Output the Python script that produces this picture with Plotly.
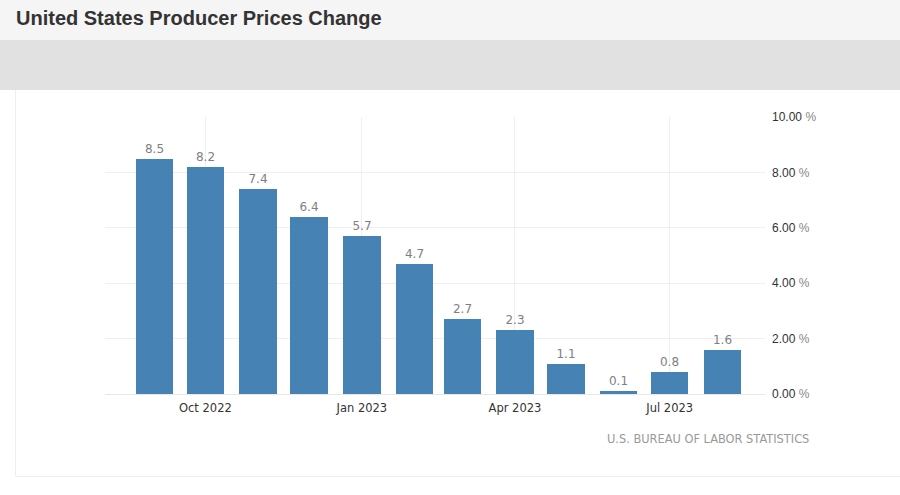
import plotly.graph_objects as go

# Data
months = ["2022-09-01", "2022-10-01", "2022-11-01", "2022-12-01", "2023-01-01", "2023-02-01",
          "2023-03-01", "2023-04-01", "2023-05-01", "2023-06-01", "2023-07-01", "2023-08-01"]
values = [8.5, 8.2, 7.4, 6.4, 5.7, 4.7, 2.7, 2.3, 1.1, 0.1, 0.8, 1.6]
x_tick_vals = ["2022-10-01", "2023-01-01", "2023-04-01", "2023-07-01"]
x_tick_text = ["Oct 2022", "Jan 2023", "Apr 2023", "Jul 2023"]
y_tick_vals = [0, 2, 4, 6, 8, 10]
y_tick_text = ["0.00", "2.00", "4.00", "6.00", "8.00", "10.00"]

W, H = 900, 495
L, R, T, B = 105, 135, 117, 101
PW, PH = W - L - R, H - T - B


def px2x(px):
    return (px - L) / PW


def px2y(py):
    return (H - B - py) / PH


fig = go.Figure()
fig.add_trace(go.Bar(
    x=months, y=values,
    width=22 * 24 * 3600 * 1000,
    marker=dict(color="#4682b4", line=dict(width=0)),
    text=[f"{v:.1f}" for v in values],
    textposition="outside",
    textfont=dict(family="DejaVu Sans", size=12, color="#808080"),
    cliponaxis=False,
    hoverinfo="x+y",
))

shapes = [
    dict(type="rect", xref="paper", yref="paper", x0=px2x(0), x1=px2x(900), y0=px2y(0), y1=px2y(40),
         fillcolor="#f5f5f5", line=dict(width=0), layer="below"),
    dict(type="rect", xref="paper", yref="paper", x0=px2x(0), x1=px2x(900), y0=px2y(40), y1=px2y(90),
         fillcolor="#e1e1e1", line=dict(width=0), layer="below"),
    dict(type="line", xref="paper", yref="paper", x0=px2x(15.5), x1=px2x(15.5), y0=px2y(90), y1=px2y(476),
         line=dict(color="#eeeeee", width=1), layer="below"),
    dict(type="line", xref="paper", yref="paper", x0=px2x(15.5), x1=px2x(900), y0=px2y(476.5), y1=px2y(476.5),
         line=dict(color="#eeeeee", width=1), layer="below"),
]

annotations = [
    dict(text="<b>United States Producer Prices Change</b>", xref="paper", yref="paper",
         x=px2x(14), y=px2y(18), xanchor="left", yanchor="middle", showarrow=False,
         font=dict(family="Liberation Sans", size=20, color="#333333")),
    dict(text="U.S. BUREAU OF LABOR STATISTICS", xref="paper", yref="paper",
         x=px2x(811), y=px2y(439), xanchor="right", yanchor="middle", showarrow=False,
         font=dict(family="DejaVu Sans", size=11.4, color="#999999")),
]

fig.update_layout(
    width=W, height=H,
    margin=dict(l=L, r=R, t=T, b=B),
    paper_bgcolor="#ffffff",
    plot_bgcolor="#ffffff",
    showlegend=False,
    bargap=0,
    shapes=shapes,
    annotations=annotations,
    xaxis=dict(
        type="date",
        range=["2022-08-03", "2023-08-26"],
        tickvals=x_tick_vals, ticktext=x_tick_text,
        showgrid=True, gridcolor="#efefef", gridwidth=1,
        showline=False, zeroline=False, ticks="",
        ticklabelstandoff=5,
        tickfont=dict(family="DejaVu Sans", size=11.5, color="#333333"),
        fixedrange=True,
    ),
    yaxis=dict(
        side="right",
        range=[0, 10],
        tickvals=y_tick_vals,
        ticktext=[f"{t} <span style='color:#888888'>%</span>" for t in y_tick_text],
        showgrid=True, gridcolor="#efefef", gridwidth=1,
        zeroline=True, zerolinecolor="#e8e8e8", zerolinewidth=1,
        showline=False, ticks="",
        ticklabelstandoff=6,
        tickfont=dict(family="Liberation Sans", size=12, color="#333333"),
        fixedrange=True,
    ),
)

fig.write_html("out.html", config={"displayModeBar": False},
               post_script="document.body.style.margin='0';document.body.style.padding='0';")
